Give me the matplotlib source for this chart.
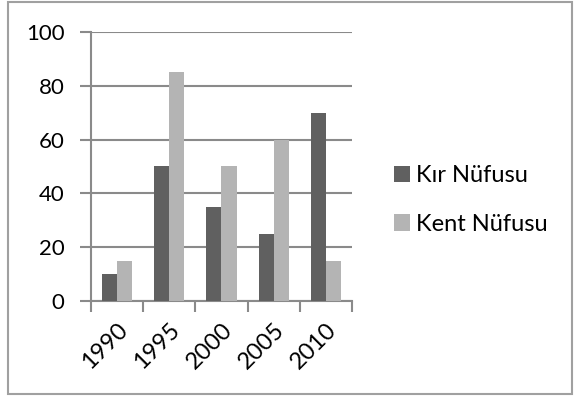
import matplotlib
matplotlib.use("Agg")
import matplotlib.pyplot as plt
from matplotlib.patches import Rectangle
import numpy as np

plt.rcParams['font.family'] = ['Lato', 'DejaVu Sans']

years = ["1990", "1995", "2000", "2005", "2010"]
kir_nufusu = [10, 50, 35, 25, 70]
kent_nufusu = [15, 85, 50, 60, 15]

dark = '#606060'
light = '#b4b4b4'
grid_col = '#8a8a8a'

fig = plt.figure(figsize=(5.74, 3.96), dpi=100)
ax = fig.add_axes([0.1585, 0.2399, 0.4547, 0.6793])

x = np.arange(len(years))
w = 0.29
ax.bar(x - w / 2, kir_nufusu, w, color=dark, label='Kır Nüfusu', zorder=3)
ax.bar(x + w / 2, kent_nufusu, w, color=light, label='Kent Nüfusu', zorder=3)

ax.set_xlim(-0.5, len(years) - 0.5)
ax.set_ylim(0, 100)
ax.set_yticks(range(0, 101, 20))
ax.yaxis.grid(True, color=grid_col, lw=1.5, zorder=0)

# category labels at bar centers, tick marks on the category boundaries
ax.set_xticks(x)
ax.set_xticklabels(years, rotation=45, ha='right', rotation_mode='anchor')
ax.set_xticks(np.arange(-0.5, len(years)), minor=True)
ax.tick_params(axis='x', which='major', length=0, pad=13, labelsize=17)
ax.tick_params(axis='x', which='minor', length=8, width=1.5, color=grid_col)
ax.tick_params(axis='y', length=8, width=1.5, color=grid_col, labelsize=16, pad=11)

for side in ['top', 'right']:
    ax.spines[side].set_visible(False)
for side in ['left', 'bottom']:
    ax.spines[side].set_color(grid_col)
    ax.spines[side].set_linewidth(1.5)

fig.legend(loc='center left', bbox_to_anchor=(0.649, 0.495), frameon=False,
           fontsize=17, handlelength=0.7, handleheight=0.7,
           handletextpad=0.25, labelspacing=1.15)

# outer chart border
fig.add_artist(Rectangle((8 / 574, 2 / 396), 564 / 574, 392 / 396,
                         transform=fig.transFigure, fill=False,
                         edgecolor='#a0a0a0', lw=1.5))

fig.savefig('out.png', dpi=100)
